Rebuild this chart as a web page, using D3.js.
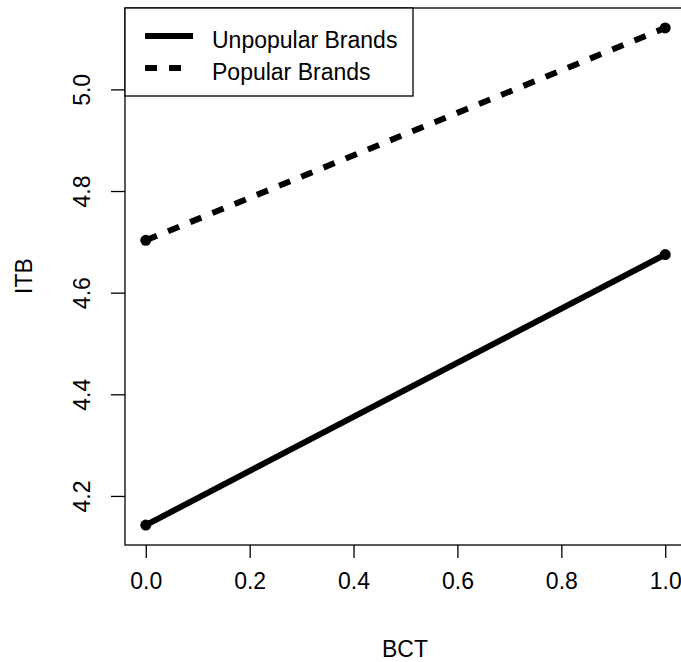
<!DOCTYPE html>
<html lang="en">
<head>
<meta charset="UTF-8">
<script src="https://d3js.org/d3.v7.min.js"></script>
<style>
  body { margin: 0; background: #fff; }
  text { font-family: "Liberation Sans", Arial, sans-serif; fill: #000; }
</style>
</head>
<body>
<svg width="681" height="662"></svg>
<script>
    // data
    var bctValues = [0, 1];
    var unpopularItb = [4.1426, 4.675];
    var popularItb = [4.703, 5.121];
    var seriesNames = ["Unpopular Brands", "Popular Brands"];
    var xTicks = [0, 0.2, 0.4, 0.6, 0.8, 1.0];
    var yTicks = [4.2, 4.4, 4.6, 4.8, 5.0];

    var svg = d3.select("svg"),
        margin = {top: 8, left: 125, bottom: 117},
        plotW = 561,
        plotH = +svg.attr("height") - margin.top - margin.bottom,
        g = svg.append("g").attr("transform", "translate(" + margin.left + "," + margin.top + ")");

    var fontSize = 23;

    // R style 4% padding on each side
    function padded(ext) {
        var d = (ext[1] - ext[0]) * 0.04;
        return [ext[0] - d, ext[1] + d];
    }

    var x = d3.scaleLinear().domain(padded(d3.extent(bctValues))).range([0, plotW]);
    var allY = unpopularItb.concat(popularItb);
    var y = d3.scaleLinear().domain(padded(d3.extent(allY))).range([plotH, 0]);

    // x axis
    var xAxis = g.append("g").attr("transform", "translate(0," + plotH + ")")
        .call(d3.axisBottom(x).tickValues(xTicks).tickFormat(d3.format(".1f"))
            .tickSize(13).tickSizeOuter(0));
    xAxis.select(".domain").remove();
    xAxis.selectAll("line").attr("stroke", "#000").attr("stroke-width", 1.3);
    xAxis.selectAll("text").attr("font-size", fontSize).attr("font-family", "Liberation Sans, Arial, sans-serif")
        .attr("dy", null).attr("y", 44);

    // y axis (labels parallel to axis)
    var yAxis = g.append("g")
        .call(d3.axisLeft(y).tickValues(yTicks).tickFormat(d3.format(".1f"))
            .tickSize(14).tickSizeOuter(0));
    yAxis.select(".domain").remove();
    yAxis.selectAll("line").attr("stroke", "#000").attr("stroke-width", 1.3);
    yAxis.selectAll("text")
        .attr("font-size", fontSize).attr("font-family", "Liberation Sans, Arial, sans-serif")
        .attr("x", null).attr("dy", null)
        .attr("text-anchor", "middle")
        .attr("transform", "translate(-35,0) rotate(-90)");

    // series lines
    var line = d3.line().x(function(d) { return x(d[0]); }).y(function(d) { return y(d[1]); });
    var series = [
        {name: seriesNames[0], vals: unpopularItb, dash: null},
        {name: seriesNames[1], vals: popularItb, dash: "12,12"}
    ];
    series.forEach(function(s) {
        var pts = bctValues.map(function(b, i) { return [b, s.vals[i]]; });
        g.append("path").attr("d", line(pts))
            .attr("fill", "none").attr("stroke", "#000").attr("stroke-width", 6)
            .attr("stroke-dasharray", s.dash);
        g.selectAll(null).data(pts).enter().append("circle")
            .attr("cx", function(d) { return x(d[0]); })
            .attr("cy", function(d) { return y(d[1]); })
            .attr("r", 5.5).attr("fill", "#000");
    });

    // plot box
    g.append("rect").attr("x", 0).attr("y", 0).attr("width", plotW).attr("height", plotH)
        .attr("fill", "none").attr("stroke", "#000").attr("stroke-width", 1.3);

    // legend
    var leg = g.append("g");
    leg.append("rect").attr("x", 0).attr("y", 0).attr("width", 288).attr("height", 88)
        .attr("fill", "#fff").attr("stroke", "#000").attr("stroke-width", 1.3);
    series.forEach(function(s, i) {
        var ly = 28 + i * 32;
        leg.append("line").attr("x1", 20).attr("x2", 68).attr("y1", ly).attr("y2", ly)
            .attr("stroke", "#000").attr("stroke-width", 6).attr("stroke-dasharray", s.dash);
        leg.append("text").attr("x", 87).attr("y", ly + 12)
            .attr("font-size", fontSize).text(s.name);
    });

    // axis titles
    svg.append("text").attr("x", 405).attr("y", 657).attr("text-anchor", "middle")
        .attr("font-size", fontSize).text("BCT");
    svg.append("text").attr("transform", "translate(32,276) rotate(-90)").attr("text-anchor", "middle")
        .attr("font-size", fontSize).text("ITB");
</script>
</body>
</html>
